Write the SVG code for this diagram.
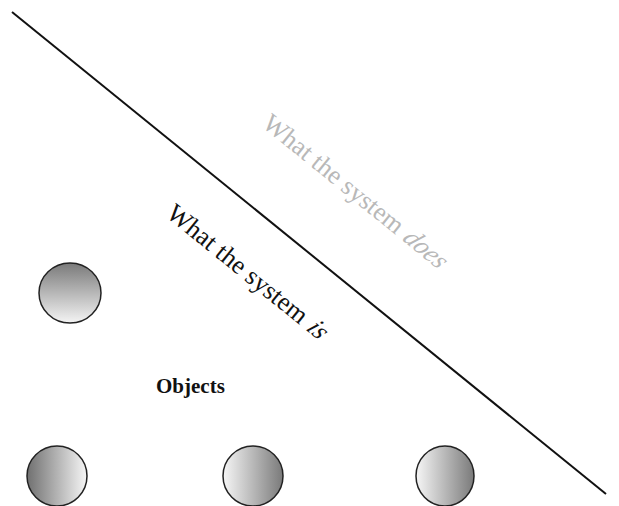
<svg xmlns="http://www.w3.org/2000/svg" width="619" height="506" viewBox="0 0 619 506">
<style>
.obj{stroke:#222;stroke-width:1.5}
.lbl{font-family:"Liberation Serif","Times New Roman",serif;font-size:26px}
</style>
<defs>
<linearGradient id="gV" x1="0" y1="0" x2="0" y2="1"><stop offset="0" stop-color="#7a7a7a"/><stop offset="1" stop-color="#f4f4f4"/></linearGradient>
<linearGradient id="gDL" x1="0" y1="0" x2="1" y2="0"><stop offset="0" stop-color="#707070"/><stop offset="1" stop-color="#f6f6f6"/></linearGradient>
<linearGradient id="gLD" x1="0" y1="0" x2="1" y2="0"><stop offset="0" stop-color="#f6f6f6"/><stop offset="1" stop-color="#7a7a7a"/></linearGradient>
</defs>
<g id="connectors">
<line x1="12" y1="12" x2="606" y2="494" stroke="#111" stroke-width="2"/>
</g>
<g id="label-is" fill="#111" transform="translate(165,216) rotate(39)">
<text class="lbl">What the system </text>
<text class="lbl" font-style="italic" transform="skewX(-14)" x="180">is</text>
</g>
<g id="label-does" fill="#b8b8b8" transform="translate(261,126) rotate(39)">
<text class="lbl">What the system </text>
<text class="lbl" font-style="italic" transform="skewX(-14)" x="180">does</text>
</g>
<g id="object-top"><ellipse class="obj" cx="70" cy="293" rx="31" ry="30" fill="url(#gV)"/></g>
<g id="object-1"><ellipse class="obj" cx="57" cy="476" rx="30" ry="30" fill="url(#gDL)"/></g>
<g id="object-2"><ellipse class="obj" cx="253" cy="476" rx="30" ry="30" fill="url(#gLD)"/></g>
<g id="object-3"><ellipse class="obj" cx="445" cy="476" rx="29" ry="30" fill="url(#gLD)"/></g>
<g id="objects-label"><text x="156" y="393" font-family="Liberation Serif,serif" font-size="21" font-weight="bold" fill="#111">Objects</text></g>
</svg>
